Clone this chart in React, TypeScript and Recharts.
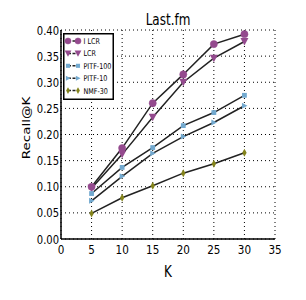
import React from 'react';
import { LineChart, Line, XAxis, YAxis, CartesianGrid } from 'recharts';

const kValues = [5, 10, 15, 20, 25, 30];
const ilcr = [0.1, 0.174, 0.26, 0.315, 0.373, 0.392];
const lcr = [0.097, 0.162, 0.233, 0.3, 0.346, 0.378];
const pitf100 = [0.087, 0.137, 0.175, 0.217, 0.242, 0.275];
const pitf10 = [0.073, 0.12, 0.164, 0.196, 0.223, 0.255];
const nmf30 = [0.049, 0.079, 0.102, 0.126, 0.144, 0.165];
const xTicks = [0, 5, 10, 15, 20, 25, 30, 35];
const yTicks = [0, 0.05, 0.1, 0.15, 0.2, 0.25, 0.3, 0.35, 0.4];

const data = kValues.map((k, i) => ({
  k,
  ilcr: ilcr[i],
  lcr: lcr[i],
  pitf100: pitf100[i],
  pitf10: pitf10[i],
  nmf30: nmf30[i],
}));

const PURPLE = '#944a8e';
const BLUE = '#72a9cf';
const OLIVE = '#84841c';
const FONT = '"DejaVu Sans", sans-serif';
const SQ = 0.8;

type Shape = 'circle' | 'tri' | 'square' | 'triR' | 'diamond';

const Marker = ({ cx, cy, shape, color, scale = 1 }: { cx: number; cy: number; shape: Shape; color: string; scale?: number }) => {
  const s = scale;
  if (shape === 'circle') return <circle cx={cx} cy={cy} r={3.6 * s} fill={color} stroke={color} strokeWidth={0.5} />;
  if (shape === 'tri')
    return (
      <polygon
        points={`${cx - 4 * s},${cy - 3.5 * s} ${cx + 4 * s},${cy - 3.5 * s} ${cx},${cy + 4 * s}`}
        fill={color}
      />
    );
  if (shape === 'square') return <rect x={cx - 2.4 * s} y={cy - 2.4 * s} width={4.8 * s} height={4.8 * s} fill={color} />;
  if (shape === 'triR')
    return (
      <polygon
        points={`${cx - 2.5 * s},${cy - 3 * s} ${cx + 3 * s},${cy} ${cx - 2.5 * s},${cy + 3 * s}`}
        fill={color}
      />
    );
  return (
    <polygon
      points={`${cx},${cy - 4 * s} ${cx + 2.2 * s},${cy} ${cx},${cy + 4 * s} ${cx - 2.2 * s},${cy}`}
      fill={color}
    />
  );
};

const series: { key: string; name: string; shape: Shape; color: string }[] = [
  { key: 'ilcr', name: 'I LCR', shape: 'circle', color: PURPLE },
  { key: 'lcr', name: 'LCR', shape: 'tri', color: PURPLE },
  { key: 'pitf100', name: 'PITF-100', shape: 'square', color: BLUE },
  { key: 'pitf10', name: 'PITF-10', shape: 'triR', color: BLUE },
  { key: 'nmf30', name: 'NMF-30', shape: 'diamond', color: OLIVE },
];

const LegendBox = () => (
  <svg width={51} height={67} style={{ display: 'block' }}>
    <rect x={0.75} y={0.75} width={49.5} height={65.5} fill="#fff" stroke="#000" strokeWidth={1.5} />
    {series.map((s, i) => {
      const y = 8 + i * 12.4;
      return (
        <g key={s.key}>
          <line x1={5} x2={15} y1={y} y2={y} stroke="#222" strokeWidth={1.5} strokeDasharray="3 1.5" />
          <Marker cx={5} cy={y} shape={s.shape} color={s.color} scale={0.85} />
          <Marker cx={15} cy={y} shape={s.shape} color={s.color} scale={0.85} />
          <text transform={`translate(20.5 ${y + 2.9}) scale(${SQ} 1)`} fontSize={8} fontFamily={FONT} fill="#000">
            {s.name}
          </text>
        </g>
      );
    })}
  </svg>
);

const XTick = (p: any) => (
  <text
    transform={`translate(${p.x} ${p.y + 15}) scale(${SQ} 1)`}
    textAnchor="middle"
    fontSize={13}
    fontFamily={FONT}
    fill="#000"
  >
    {p.payload.value}
  </text>
);

const YTick = (p: any) => (
  <text
    transform={`translate(${p.x - 2} ${p.y + 4.5}) scale(${SQ} 1)`}
    textAnchor="end"
    fontSize={12.5}
    fontFamily={FONT}
    fill="#000"
  >
    {Number(p.payload.value).toFixed(2)}
  </text>
);

export default function App() {
  return (
    <div style={{ position: 'absolute', left: 0, top: 0, width: 306, height: 300, background: '#fff' }}>
      <LineChart width={306} height={300} data={data} margin={{ top: 30, right: 31, left: 21, bottom: 22 }}>
        <text
          transform={`translate(168 25) scale(${SQ} 1)`}
          textAnchor="middle"
          fontSize={15}
          fontFamily={FONT}
          fill="#000"
        >
          Last.fm
        </text>
        <CartesianGrid stroke="#000" strokeDasharray="1 3" strokeWidth={1} />
        <XAxis
          dataKey="k"
          type="number"
          domain={[0, 35]}
          ticks={xTicks}
          interval={0}
          height={39}
          tickLine={false}
          tickSize={0}
          tickMargin={0}
          axisLine={{ stroke: '#000', strokeWidth: 1.5 }}
          tick={<XTick />}
          label={{
            content: () => (
              <text transform={`translate(168 277) scale(${SQ} 1)`} textAnchor="middle" fontSize={15} fontFamily={FONT} fill="#000">
                K
              </text>
            ),
          }}
        />
        <XAxis xAxisId="top" orientation="top" dataKey="k" type="number" domain={[0, 35]} ticks={xTicks} tick={false} tickLine={false} height={0} axisLine={{ stroke: '#000', strokeWidth: 1.5 }} />
        <YAxis
          type="number"
          domain={[0, 0.4]}
          ticks={yTicks}
          interval={0}
          width={40}
          tickLine={false}
          tickSize={0}
          tickMargin={0}
          axisLine={{ stroke: '#000', strokeWidth: 1.5 }}
          tick={<YTick />}
          label={{
            content: () => (
              <text transform={`translate(30 128) rotate(-90) scale(1 ${SQ})`} textAnchor="middle" fontSize={13.5} fontFamily={FONT} fill="#000">
                Recall@K
              </text>
            ),
          }}
        />
        <YAxis yAxisId="right" orientation="right" domain={[0, 0.4]} tick={false} tickLine={false} width={0} axisLine={{ stroke: '#000', strokeWidth: 1.5 }} />
        {series.map((s) => (
          <Line
            key={s.key}
            dataKey={s.key}
            name={s.name}
            stroke="#222"
            strokeWidth={1.5}
            isAnimationActive={false}
            dot={(p: any) => <Marker key={`${s.key}-${p.index}`} cx={p.cx} cy={p.cy} shape={s.shape} color={s.color} />}
            activeDot={false}
          />
        ))}
      </LineChart>
      <div style={{ position: 'absolute', left: 63, top: 33 }}>
        <LegendBox />
      </div>
    </div>
  );
}
